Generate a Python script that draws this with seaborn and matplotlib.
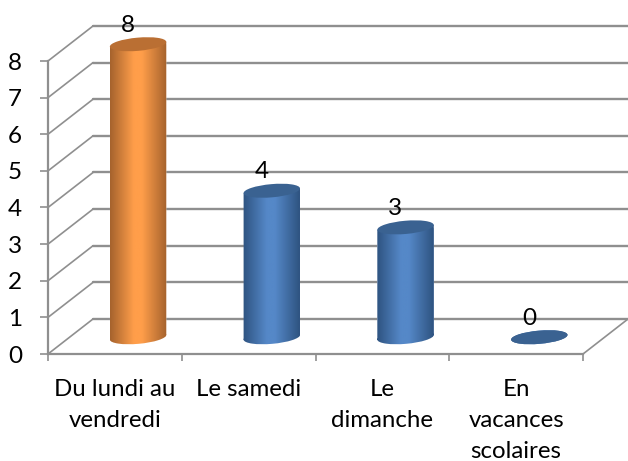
import matplotlib
matplotlib.use('Agg')
import matplotlib.pyplot as plt
import numpy as np
import seaborn as sns
from matplotlib.colors import LinearSegmentedColormap
from matplotlib.patches import Ellipse
from matplotlib.path import Path
from matplotlib.transforms import Affine2D, IdentityTransform

categories = ['Du lundi au\nvendredi', 'Le samedi', 'Le\ndimanche', 'En\nvacances\nscolaires']
values = [8, 4, 3, 0]
y_ticks = [0, 1, 2, 3, 4, 5, 6, 7, 8]
side_colors = [('#A5622D', '#FF9E4A'), ('#2E5380', '#5588C8'), ('#2E5380', '#5588C8'), ('#2E5380', '#5588C8')]
top_colors = ['#BA6F33', '#3A6291', '#3A6291', '#3A6291']

sns.set_style('white')
plt.rcParams['font.family'] = ['Lato', 'DejaVu Sans']

GRID = '#8F8F8F'
W, H = 628, 461
fig = plt.figure(figsize=(W / 100, H / 100), dpi=100)
# axes go from the front left corner to the end of the back wall
ax = fig.add_axes([48 / W, (H - 354) / H, (628 - 48) / W, (354 - 26) / H])

sns.barplot(x=categories, y=values, hue=categories, palette=[c[1] for c in side_colors],
            width=0.42, legend=False, ax=ax, zorder=3)

px_x = (583 - 48) / 4      # pixels per category
px_y = (354 - 61) / 8      # pixels per unit
ax.set_xlim(-0.5, -0.5 + (628 - 48) / px_x)
ax.set_ylim(0, (354 - 26) / px_y)

# depth of the fake 3d floor, in data units
dx = 45 / px_x
dy = 35 / px_y

for t in y_ticks:
    ax.plot([-0.5, -0.5 + dx], [t, t + dy], color=GRID, lw=1.2, clip_on=False, zorder=1)
    ax.plot([-0.5 + dx, 3.5 + dx], [t + dy, t + dy], color=GRID, lw=1.7, clip_on=False, zorder=1)
ax.plot([3.5, 3.5 + dx], [0, dy], color=GRID, lw=1.2, clip_on=False, zorder=1)

for name in ['top', 'right']:
    ax.spines[name].set_visible(False)
for name in ['left', 'bottom']:
    ax.spines[name].set_color(GRID)
    ax.spines[name].set_linewidth(1.6)
ax.spines['left'].set_bounds(0, 8)
ax.spines['bottom'].set_bounds(-0.5, 3.5)

ax.set_yticks(y_ticks)
ax.set_xticks(np.arange(-0.5, 4), minor=True)
ax.tick_params(axis='y', length=5.8, width=1.2, color=GRID, left=True, pad=13, labelsize=17.5, labelcolor='black')
ax.tick_params(axis='x', which='major', length=0, pad=18, labelsize=17.3, labelcolor='black')
ax.tick_params(axis='x', which='minor', length=5, width=1.2, color=GRID, bottom=True)
ax.set_ylabel('')
for lab in ax.get_xticklabels():
    lab.set_linespacing(1.6)

R_W, R_H, TILT = 28.3, 6.6, 5
shift = Affine2D().translate(dx / 2 + 0.005, dy / 2 - 0.02)
cos_t, sin_t = np.cos(np.radians(TILT)), np.sin(np.radians(TILT))

for patch, val, sides, top in zip(ax.patches, values, side_colors, top_colors):
    patch.set_transform(shift + ax.transData)
    bx, bw = patch.get_x(), patch.get_width()
    cx = bx + bw / 2 + dx / 2 + 0.005
    y_low = dy / 2 - 0.02
    base = ax.transData.transform((cx, y_low))
    head = ax.transData.transform((cx, val + y_low))
    ex, ey = R_W * cos_t, R_W * sin_t

    # body: tilted box between both rims plus the rounded lower rim
    box = Path([(base[0] - ex, base[1] - ey), (base[0] + ex, base[1] + ey),
                (head[0] + ex, head[1] + ey), (head[0] - ex, head[1] - ey),
                (base[0] - ex, base[1] - ey)], closed=True)
    rim = Path.unit_circle().transformed(
        Affine2D().scale(R_W, R_H).rotate_deg(TILT).translate(*base))
    body = Path.make_compound_path(box, rim)
    patch.set_clip_path(body, IdentityTransform())

    cmap = LinearSegmentedColormap.from_list('side', [(0, sides[0]), (0.42, sides[1]), (0.56, sides[1]), (1, sides[0])])
    left = cx - R_W / px_x
    right = cx + R_W / px_x
    img = ax.imshow(np.linspace(0, 1, 256).reshape(1, -1), cmap=cmap, aspect='auto', zorder=3.5,
                    extent=[left, right, 0, val + dy])
    img.set_clip_path(body, IdentityTransform())

    ax.add_patch(Ellipse((0, 0), 2, 2, color=top, lw=0, zorder=4, clip_on=False,
                         transform=Affine2D().scale(R_W, R_H).rotate_deg(TILT).translate(*head)))

ax.set_xlim(-0.5, -0.5 + (628 - 48) / px_x)
ax.set_ylim(0, (354 - 26) / px_y)

for i, val in enumerate(values):
    ax.annotate(str(val), xy=(i, val), xytext=(13, 36), textcoords='offset pixels', ha='center', va='center',
                fontsize=17.5, color='black', zorder=5, annotation_clip=False)

fig.savefig('out.png', dpi=100)
